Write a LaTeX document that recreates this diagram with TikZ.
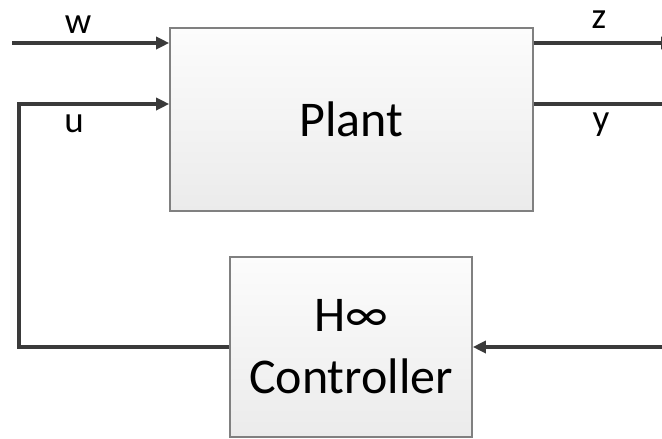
\documentclass[tikz,border=0pt]{standalone}
\usepackage{fontspec}
\setmainfont{Carlito}
\usetikzlibrary{arrows.meta,calc}

\definecolor{wire}{HTML}{3A3A3A}
\definecolor{boxedge}{HTML}{808080}
\definecolor{boxtop}{HTML}{FCFCFC}
\definecolor{boxbottom}{HTML}{EBEBEB}

\tikzset{
  block/.style={draw=boxedge, line width=1.6pt, top color=boxtop, bottom color=boxbottom,
    inner sep=0pt, align=center, font=\fontsize{50}{62}\selectfont},
  wireline/.style={draw=wire, line width=3.8pt, line join=miter},
  arrowed/.style={wireline, -{Triangle[length=13pt,width=12pt]}},
  signal/.style={font=\fontsize{37}{42}\selectfont, anchor=base, inner sep=0pt}
}

\begin{document}
\begin{tikzpicture}[x=1pt,y=-1pt]
  \useasboundingbox (0,0) rectangle (662,439);

  % blocks
  \node[block, minimum width=363pt, minimum height=183pt] (plant) at (351.5,119.5) {Plant};
  \node[block, minimum width=242pt, minimum height=180pt] (ctrl) at (351,347) {H∞\\Controller};

  % ports on the plant
  \coordinate (wIn)  at (plant.west |- 0,43);
  \coordinate (uIn)  at (plant.west |- 0,104);
  \coordinate (zOut) at (plant.east |- 0,43);
  \coordinate (yOut) at (plant.east |- 0,104);

  % free ends and loop corners
  \coordinate (wSrc)  at (12,43);
  \coordinate (zDst)  at (674,43);
  \coordinate (lcorn) at (19,104);
  \coordinate (lbot)  at (19,347);
  \coordinate (rtop)  at (690,104);
  \coordinate (rbot)  at (690,347);

  % connectors
  \draw[arrowed] (wSrc) -- (wIn);
  \draw[arrowed] (zOut) -- (zDst);
  \draw[arrowed] (ctrl.west) -- (lbot) -- (lcorn) -- (uIn);
  \draw[arrowed] (yOut) -- (rtop) -- (rbot) -- (ctrl.east);

  % signal names
  \node[signal] (lw) at (78,33)  {w};
  \node[signal] (lu) at (74,132) {u};
  \node[signal] (lz) at (599,28) {z};
  \node[signal] (ly) at (601,130) {y};
\end{tikzpicture}
\end{document}
